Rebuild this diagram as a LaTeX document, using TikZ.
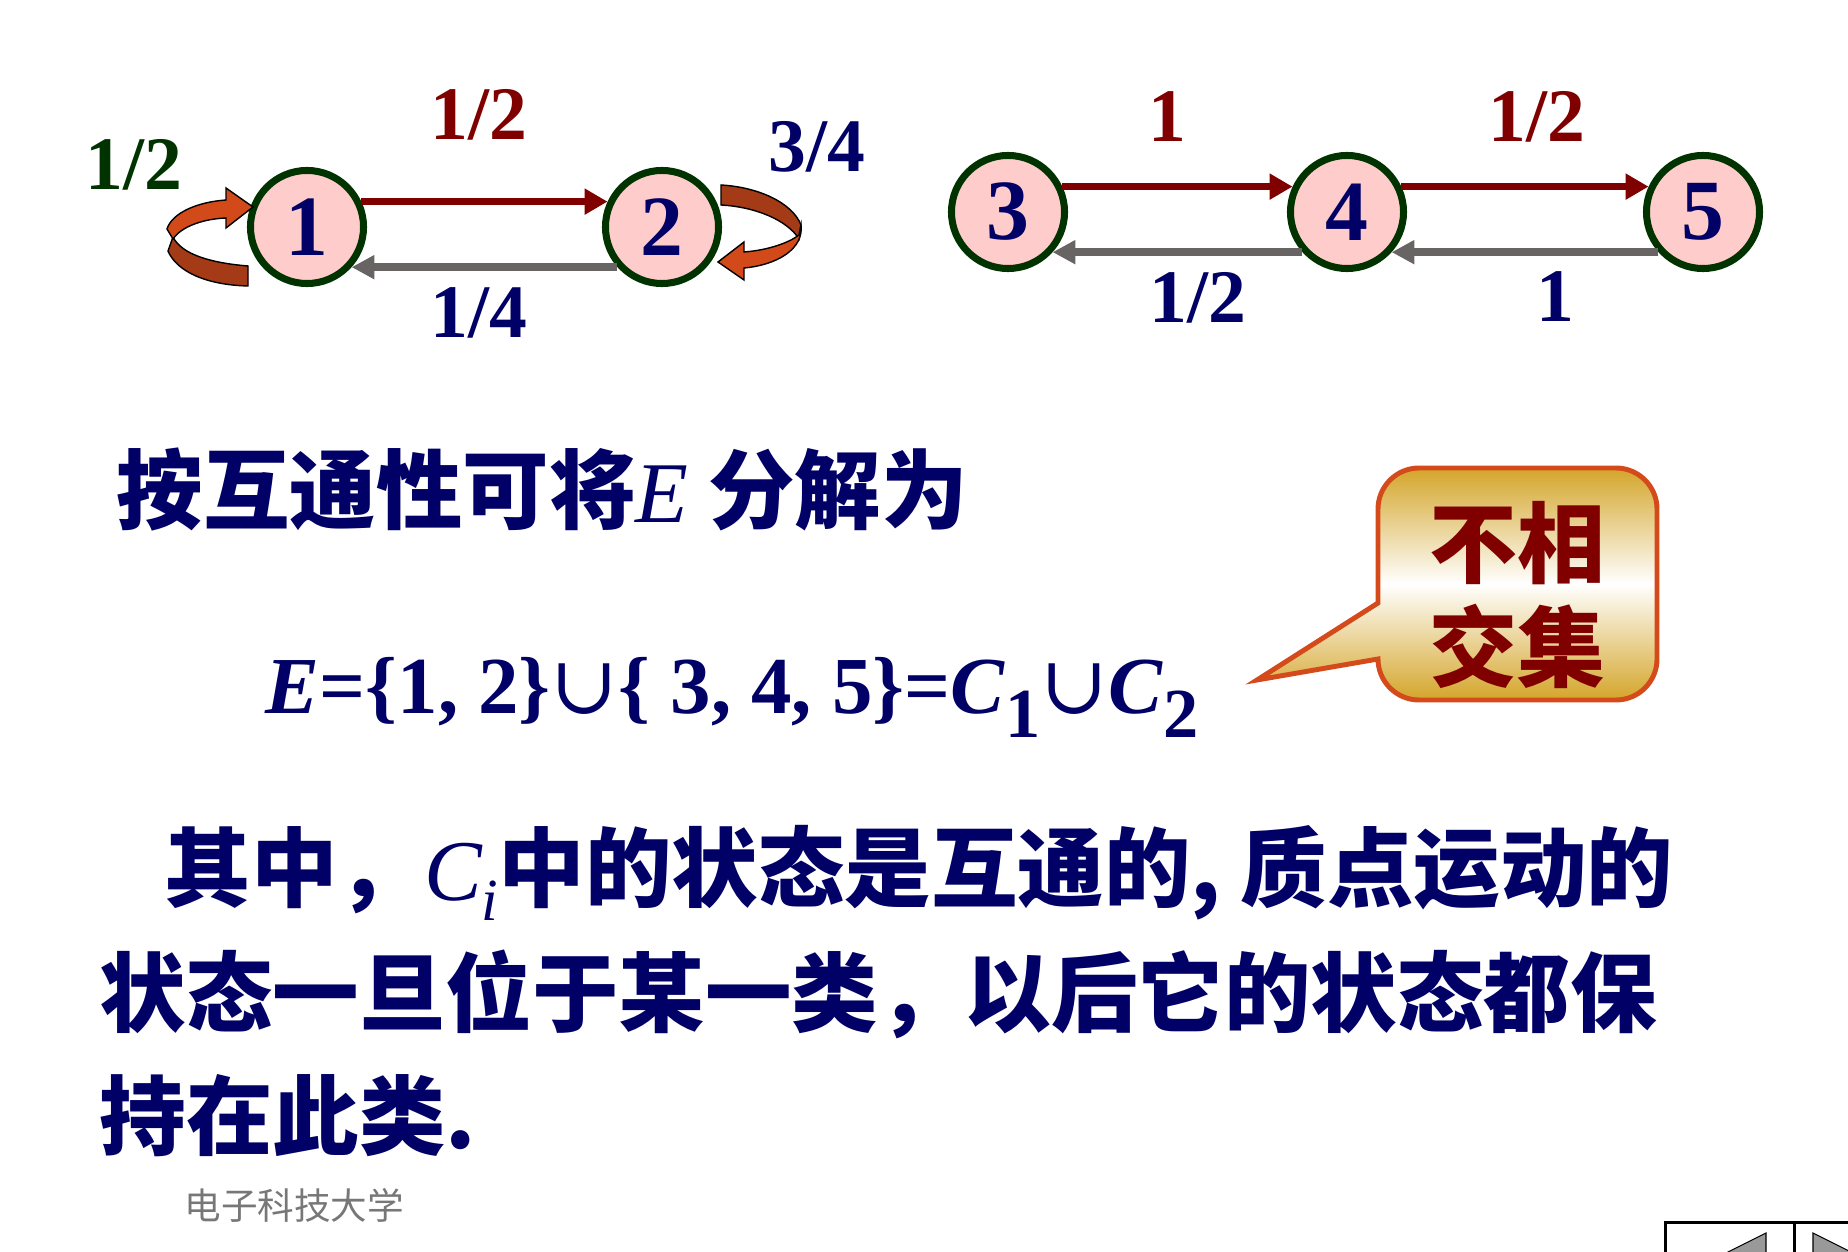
\documentclass[tikz,border=0pt]{standalone}
\usepackage{fontspec}
\setmainfont{Liberation Serif}
\newfontfamily\cjk{Noto Sans CJK SC}
\newfontfamily\symb{DejaVu Serif}
\usepackage{tikz}
\usetikzlibrary{positioning}
\usetikzlibrary{arrows.meta}
\definecolor{statefill}{HTML}{FFCCCC}
\definecolor{stateline}{HTML}{003300}
\definecolor{navy}{HTML}{000066}
\definecolor{darkred}{HTML}{800000}
\definecolor{arrowgray}{HTML}{686464}
\definecolor{loopfront}{HTML}{D24A1A}
\definecolor{loopback}{HTML}{A53A17}
\definecolor{calloutline}{HTML}{D44A1A}
\definecolor{gold}{HTML}{D4A52A}
\definecolor{footgray}{HTML}{777777}
\tikzset{state/.style={circle,draw=stateline,line width=2pt,fill=statefill,minimum size=1.13cm,inner sep=0pt,text=navy,font=\fontsize{24.4}{26}\selectfont\bfseries}}
\tikzset{fwd/.style={darkred,line width=2pt,-{Triangle[length=6.5pt,width=7pt]}}}
\tikzset{bwd/.style={arrowgray,line width=2.2pt,-{Triangle[length=6.5pt,width=6.5pt]}}}
\tikzset{prob/.style={inner sep=0pt,font=\fontsize{21.5}{24}\selectfont\bfseries}}
\tikzset{loopband/.style={draw=black,line width=0.4pt}}
\tikzset{bodytext/.style={anchor=base west,inner sep=0pt,text=navy,font=\fontsize{24.6}{28}\selectfont\cjk\bfseries}}

\begin{document}
\begin{tikzpicture}[x=0.01cm,y=-0.01cm]
\useasboundingbox (0,0) rectangle (1848,1252);
\begin{scope}
\clip (0,0) rectangle (1848,1252);
% states
\node[state] (n1) at (307,227) {1};
\node[state] (n2) at (662,227) {2};
\node[state] (n3) at (1008,212) {3};
\node[state] (n4) at (1347,212) {4};
\node[state] (n5) at (1703,212) {5};
\draw[fwd] (n1.25) -- (n2.155);
\draw[bwd] (n2.222) -- (n1.-42);
\draw[fwd] (n3.25) -- (n4.155);
\draw[fwd] (n4.25) -- (n5.155);
\draw[bwd] (n4.222) -- (n3.-42);
\draw[bwd] (n5.222) -- (n4.-42);
% self loops
\begin{scope}[shift={(n1.center)}]
\filldraw[loopband,fill=loopback] (-59,39) .. controls (-95,36) and (-125,28) .. (-134,10) -- (-139,24) .. controls (-130,45) and (-100,58) .. (-59,59) -- cycle;
\filldraw[loopband,fill=loopfront] (-140,2) .. controls (-135,-14) and (-110,-25) .. (-81,-27) -- (-81,-39) -- (-54,-20) -- (-81,1) -- (-81,-9) .. controls (-105,-8) and (-126,0) .. (-134,12) -- cycle;
\end{scope}
\begin{scope}[shift={(n2.center)}]
\filldraw[loopband,fill=loopback] (59,-42) .. controls (95,-40) and (130,-25) .. (139,-2) -- (137,12) .. controls (126,-6) and (95,-20) .. (59,-22) -- cycle;
\filldraw[loopband,fill=loopfront] (139,-2) .. controls (142,22) and (115,38) .. (82,41) -- (82,53) -- (56,35) -- (82,15) -- (82,25) .. controls (108,23) and (128,15) .. (137,8) -- cycle;
\end{scope}
% transition probabilities
\node[prob,text=darkred] (p12) at (479,115) {1/2};
\node[prob,text=navy] (p21) at (479,313) {1/4};
\node[prob,text=stateline] (p11) at (134,165) {1/2};
\node[prob,text=navy] (p22) at (817,147) {3/4};
\node[prob,text=darkred] (p34) at (1167,117) {1};
\node[prob,text=darkred] (p45) at (1537,117) {1/2};
\node[prob,text=navy] (p43) at (1198,298) {1/2};
\node[prob,text=navy] (p54) at (1555,297) {1};
% text
\node[bodytext] (head) at (116,523) {按互通性可将{\rmfamily\mdseries\itshape E} 分解为};
\node[anchor=base west,inner sep=0pt,text=navy,font=\fontsize{23}{28}\selectfont\bfseries] (union) at (265,713) {\textit{E}=\{1, 2\}{\symb\mdseries ∪}\{ 3, 4, 5\}=\textit{C}\raisebox{-0.24cm}{\fontsize{20}{24}\selectfont 1}{\symb\mdseries ∪}\textit{C}\raisebox{-0.24cm}{\fontsize{20}{24}\selectfont 2}};
\node[bodytext] (line1) at (164,900) {其中，{\rmfamily\mdseries\itshape C\raisebox{-0.2cm}{\fontsize{17}{18}\selectfont i}}中的状态是互通的, 质点运动的};
\node[bodytext] (line2) at (99,1025) {状态一旦位于某一类，以后它的状态都保};
\node[bodytext] (line3) at (99,1148) {持在此类.};
% callout
\draw[draw=calloutline,line width=1.4pt,top color=gold,bottom color=gold,middle color=white] (1257,680) -- (1378,603) -- (1378,509) .. controls (1378,486.4) and (1396.4,468) .. (1419,468) -- (1616,468) .. controls (1638.6,468) and (1657,486.4) .. (1657,509) -- (1657,659) .. controls (1657,681.6) and (1638.6,700) .. (1616,700) -- (1419,700) .. controls (1396.4,700) and (1378,681.6) .. (1378,659) -- cycle;
\node[align=center,inner sep=0pt,text=darkred,font=\fontsize{25}{29.3}\selectfont\cjk\bfseries] (disjoint) at (1517,595) {不相\\交集};
% footer
\node[anchor=base west,inner sep=0pt,text=footgray,font=\fontsize{10.4}{12}\selectfont\cjk] (univ) at (184,1219) {电子科技大学};
\draw[line width=0.85pt] (1665,1300) -- (1665,1222) -- (1900,1222);
\draw[line width=0.85pt] (1794,1222) -- (1794,1300);
\filldraw[fill=black!40,draw=black,line width=0.3pt] (1766,1233) -- (1700,1266) -- (1766,1299) -- cycle;
\filldraw[fill=black!40,draw=black,line width=0.3pt] (1813,1233) -- (1879,1266) -- (1813,1299) -- cycle;
\end{scope}
\end{tikzpicture}
\end{document}
